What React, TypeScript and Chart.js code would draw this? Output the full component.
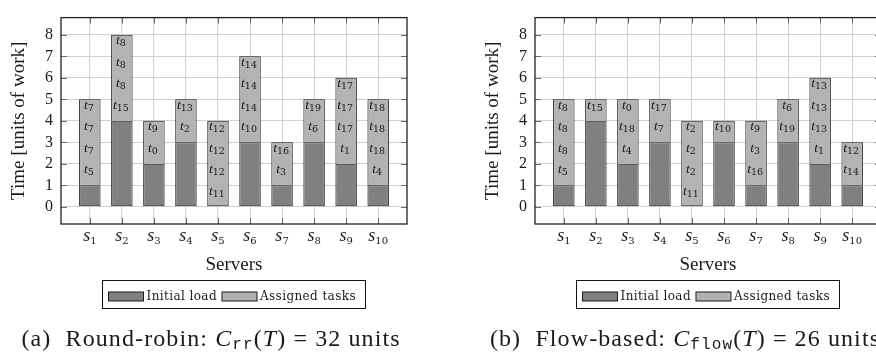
import React, { useEffect, useRef } from "react";
import { Chart, registerables } from "chart.js";

Chart.register(...registerables);

// ---------- data ----------
const servers = ["s_1", "s_2", "s_3", "s_4", "s_5", "s_6", "s_7", "s_8", "s_9", "s_10"];
const seriesLabels = ["Initial load", "Assigned tasks"];
const initialLoad = [1, 4, 2, 3, 0, 3, 1, 3, 2, 1];

// Round-robin: assigned units per server and task label of each unit (bottom to top)
const rrAssigned = [4, 4, 2, 2, 4, 4, 2, 2, 4, 4];
const rrTasks = [
  ["t_5", "t_7", "t_7", "t_7"],
  ["t_15", "t_8", "t_8", "t_8"],
  ["t_0", "t_9"],
  ["t_2", "t_13"],
  ["t_11", "t_12", "t_12", "t_12"],
  ["t_10", "t_14", "t_14", "t_14"],
  ["t_3", "t_16"],
  ["t_6", "t_19"],
  ["t_1", "t_17", "t_17", "t_17"],
  ["t_4", "t_18", "t_18", "t_18"],
];

// Flow-based
const flowAssigned = [4, 1, 3, 2, 4, 1, 3, 2, 4, 2];
const flowTasks = [
  ["t_5", "t_8", "t_8", "t_8"],
  ["t_15"],
  ["t_4", "t_18", "t_0"],
  ["t_7", "t_17"],
  ["t_11", "t_2", "t_2", "t_2"],
  ["t_10"],
  ["t_16", "t_3", "t_9"],
  ["t_19", "t_6"],
  ["t_1", "t_13", "t_13", "t_13"],
  ["t_14", "t_12"],
];

const rrCaption = { tag: "(a)", name: "Round-robin:", sub: "rr", total: 32 };
const flowCaption = { tag: "(b)", name: "Flow-based:", sub: "flow", total: 26 };

// ---------- style ----------
const SERIF = '"Liberation Serif", "Times New Roman", serif';
const SUBF = '"DejaVu Serif", serif';
const MONO = '"Liberation Mono", "DejaVu Sans Mono", monospace';
const DARK = "#808080";
const LIGHT = "#b3b3b3";
const EDGE = "#1a1a1a";
const GRID = "#d0d0d0";
const TEXT = "#1a1a1a";

type Run = { text: string; font: string; dy?: number };

function drawRuns(ctx: CanvasRenderingContext2D, runs: Run[], x: number, y: number, align: "center" | "left", spacing = 0) {
  ctx.save();
  (ctx as any).letterSpacing = spacing + "px";
  ctx.textAlign = "left";
  ctx.textBaseline = "alphabetic";
  ctx.fillStyle = TEXT;
  let total = 0;
  const widths = runs.map((r) => {
    ctx.font = r.font;
    const w = ctx.measureText(r.text).width;
    total += w;
    return w;
  });
  let cx = align === "center" ? x - total / 2 : x;
  runs.forEach((r, i) => {
    ctx.font = r.font;
    ctx.fillText(r.text, cx, y + (r.dy || 0));
    cx += widths[i];
  });
  ctx.restore();
  return total;
}

function splitLabel(s: string) {
  const [b, sub] = s.split("_");
  return { b, sub };
}

function makeConfig(assigned: number[], tasks: string[][], caption: typeof rrCaption) {
  const taskLabelPlugin = {
    id: "taskLabels",
    afterDatasetsDraw(chart: any) {
      const ctx: CanvasRenderingContext2D = chart.ctx;
      const ys = chart.scales.y;
      const meta = chart.getDatasetMeta(1);
      meta.data.forEach((el: any, i: number) => {
        const { x, y, base, width } = el.getProps(["x", "y", "base", "width"], true);
        ctx.save();
        ctx.beginPath();
        ctx.rect(x - width / 2 + 1, y + 1, width - 2, base - y - 1);
        ctx.clip();
        tasks[i].forEach((lab, k) => {
          const { b, sub } = splitLabel(lab);
          const top = ys.getPixelForValue(initialLoad[i] + k + 1);
          drawRuns(
            ctx,
            [
              { text: b, font: `italic 13.5px ${SERIF}` },
              { text: sub, font: `9.5px ${SUBF}`, dy: 2 },
            ],
            x - 1,
            top + 9.5,
            "center"
          );
        });
        ctx.restore();
      });
    },
  };

  const decorPlugin = {
    id: "decor",
    afterDraw(chart: any) {
      const ctx: CanvasRenderingContext2D = chart.ctx;
      const ca = chart.chartArea;
      const xs = chart.scales.x;
      const ys = chart.scales.y;

      // inner tick marks
      ctx.save();
      ctx.strokeStyle = "#6a6a6a";
      ctx.lineWidth = 1;
      const tl = 6;
      xs.ticks.forEach((t: any) => {
        const px = Math.round(xs.getPixelForValue(t.value)) + 0.5;
        ctx.beginPath();
        ctx.moveTo(px, ca.top);
        ctx.lineTo(px, ca.top + tl);
        ctx.moveTo(px, ca.bottom);
        ctx.lineTo(px, ca.bottom - tl);
        ctx.stroke();
      });
      ys.ticks.forEach((t: any) => {
        const py = Math.round(ys.getPixelForValue(t.value)) + 0.5;
        ctx.beginPath();
        ctx.moveTo(ca.left, py);
        ctx.lineTo(ca.left + tl, py);
        ctx.moveTo(ca.right, py);
        ctx.lineTo(ca.right - tl, py);
        ctx.stroke();
      });
      // frame
      ctx.strokeStyle = "#222";
      ctx.lineWidth = 1.3;
      ctx.strokeRect(ca.left, ca.top, ca.right - ca.left, ca.bottom - ca.top);
      ctx.restore();

      // x tick labels s_i
      servers.forEach((lab, i) => {
        const { b, sub } = splitLabel(lab);
        const px = xs.getPixelForValue(i);
        drawRuns(
          ctx,
          [
            { text: b, font: `italic 18px ${SERIF}` },
            { text: sub, font: `10px ${SUBF}`, dy: 2.5 },
          ],
          px,
          ca.bottom + 17,
          "center"
        );
      });

      // legend with frame
      const cx = (ca.left + ca.right) / 2;
      const top = ca.bottom + 56;
      const h = 28;
      const sw = 35, sh = 9, gapT = 3, gapItem = 5, padL = 6, padR = 10;
      const lfont = `12px ${SUBF}`;
      ctx.save();
      (ctx as any).letterSpacing = "0.4px";
      ctx.font = lfont;
      const ds = chart.data.datasets;
      const tw = ds.map((d: any) => ctx.measureText(d.label).width);
      const total = padL + padR + tw.reduce((a: number, w: number) => a + w + sw + gapT, 0) + gapItem * (ds.length - 1);
      const left = Math.round(cx - total / 2) + 0.5;
      ctx.strokeStyle = "#111";
      ctx.lineWidth = 1;
      ctx.strokeRect(left, top + 0.5, Math.round(total), h);
      let xx = left + padL;
      ds.forEach((d: any, i: number) => {
        ctx.fillStyle = d.backgroundColor;
        ctx.fillRect(xx, top + 12, sw, sh);
        ctx.strokeStyle = EDGE;
        ctx.strokeRect(xx, top + 12, sw, sh);
        ctx.fillStyle = TEXT;
        ctx.textBaseline = "alphabetic";
        ctx.fillText(d.label, xx + sw + gapT, top + 20);
        xx += sw + gapT + tw[i] + gapItem;
      });
      ctx.restore();

      // caption
      const rom = `24px ${SERIF}`;
      const ita = `italic 24px ${SERIF}`;
      drawRuns(
        ctx,
        [
          { text: `${caption.tag}  ${caption.name} `, font: rom },
          { text: "C", font: ita },
          { text: caption.sub, font: `16px ${MONO}`, dy: 3 },
          { text: "(", font: rom },
          { text: "T", font: ita },
          { text: `) = ${caption.total} units`, font: rom },
        ],
        cx - 23,
        346,
        "center",
        1.1
      );
    },
  };

  return {
    type: "bar",
    data: {
      datasets: [
        {
          label: seriesLabels[0],
          data: initialLoad.map((v, i) => ({ x: i, y: v })),
          backgroundColor: DARK,
          borderColor: EDGE,
          borderWidth: 1,
          borderSkipped: false,
        },
        {
          label: seriesLabels[1],
          data: assigned.map((v, i) => ({ x: i, y: v })),
          backgroundColor: LIGHT,
          borderColor: EDGE,
          borderWidth: 1,
          borderSkipped: (c: any) => (initialLoad[c.dataIndex] > 0 ? "start" : false),
        },
      ],
    },
    options: {
      animation: false,
      responsive: false,
      events: [],
      layout: { padding: { left: 0, right: 31, top: 3, bottom: 82 } },
      datasets: { bar: { categoryPercentage: 1, barPercentage: 0.67 } },
      plugins: {
        legend: { display: false },
        tooltip: { enabled: false },
        title: { display: false },
      },
      scales: {
        x: {
          type: "linear",
          stacked: true,
          offset: false,
          min: -0.9,
          max: 9.9,
          ticks: { stepSize: 1, includeBounds: false, display: false },
          grid: { color: GRID, lineWidth: 1, drawTicks: false, offset: false },
          border: { display: false },
          title: {
            display: true,
            text: "Servers",
            color: TEXT,
            font: { family: SERIF, size: 19 },
            padding: { top: 0, bottom: 0 },
          },
          afterFit: (s: any) => {
            s.height = 52;
          },
        },
        y: {
          type: "linear",
          stacked: true,
          min: -0.8,
          max: 8.8,
          ticks: { stepSize: 1, includeBounds: false, padding: 8, color: TEXT, font: { family: SERIF, size: 16 } },
          grid: { color: GRID, lineWidth: 1, drawTicks: false },
          border: { display: false },
          title: {
            display: true,
            text: "Time [units of work]",
            color: TEXT,
            font: { family: SERIF, size: 19 },
            padding: { top: 7.5, bottom: 0 },
          },
          afterFit: (s: any) => {
            s.width = 61;
          },
        },
      },
    },
    plugins: [taskLabelPlugin, decorPlugin],
  } as any;
}

function Panel(props: { left: number; assigned: number[]; tasks: string[][]; caption: typeof rrCaption }) {
  const ref = useRef<HTMLCanvasElement>(null);
  useEffect(() => {
    const chart = new Chart(ref.current as HTMLCanvasElement, makeConfig(props.assigned, props.tasks, props.caption));
    return () => chart.destroy();
  }, []);
  return (
    <canvas
      ref={ref}
      width={438}
      height={358}
      style={{ position: "absolute", left: props.left, top: 0, width: 438, height: 358 }}
    />
  );
}

export default function App() {
  return (
    <div
      style={{
        position: "fixed",
        left: 0,
        top: 0,
        width: 876,
        height: 358,
        overflow: "hidden",
        background: "#fff",
      }}
    >
      <Panel left={0} assigned={rrAssigned} tasks={rrTasks} caption={rrCaption} />
      <Panel left={474} assigned={flowAssigned} tasks={flowTasks} caption={flowCaption} />
    </div>
  );
}
